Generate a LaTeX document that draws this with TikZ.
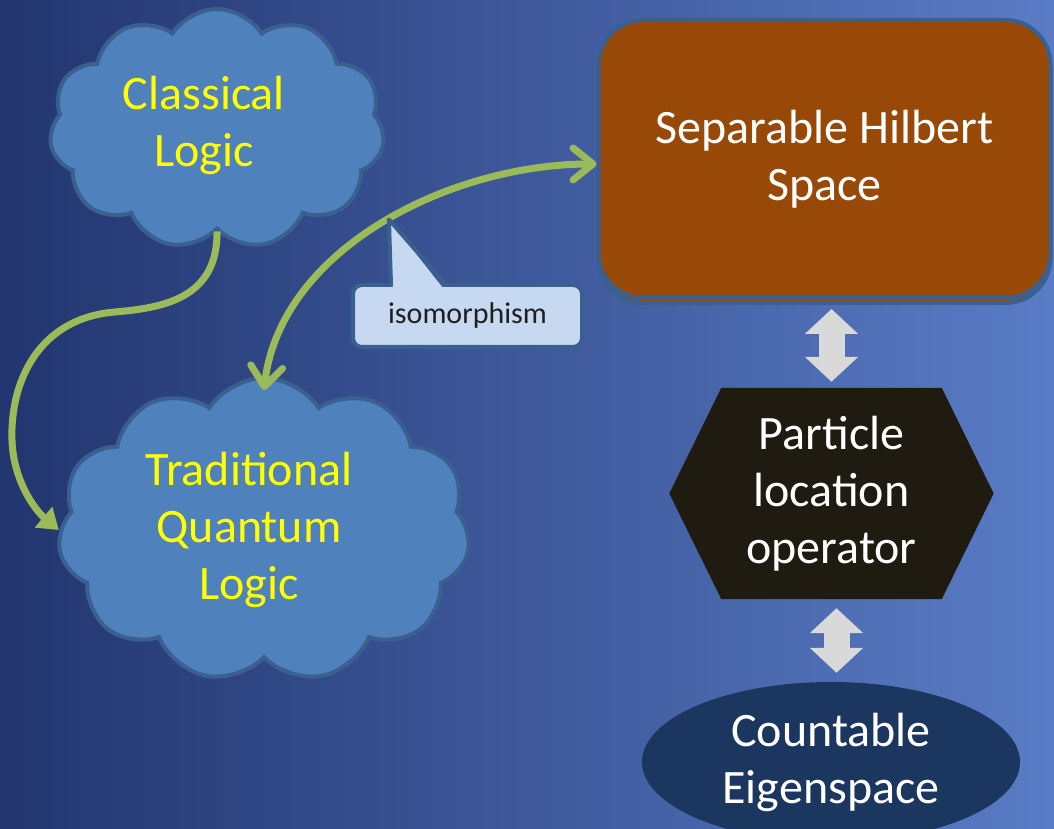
\documentclass[tikz,border=0pt]{standalone}
\usepackage{fontspec}
\setmainfont{Carlito}
\usepackage{tikz}
\usetikzlibrary{arrows.meta,positioning,calc,backgrounds,shadows,shapes.geometric,shapes.symbols}
\definecolor{BgDark}{HTML}{22356F}
\definecolor{BgLight}{HTML}{5A7CC6}
\definecolor{CloudFill}{HTML}{4F81BD}
\definecolor{CloudEdge}{HTML}{3A6090}
\definecolor{Leaf}{HTML}{9BBB59}
\definecolor{Rust}{HTML}{984807}
\definecolor{Tar}{HTML}{1F1B10}
\definecolor{Navy}{HTML}{1B375F}
\definecolor{Mist}{HTML}{D9D9D9}
\definecolor{NoteFill}{HTML}{C6D9F1}
\definecolor{NoteInk}{HTML}{1F1F1F}
\definecolor{Yel}{HTML}{FFFF00}
\tikzset{
  big/.style={font=\fontsize{48}{57}\selectfont,align=center},
  puff/.style={cloud,cloud puffs=11,cloud puff arc=115,draw=CloudEdge,fill=CloudFill,line width=4pt,inner sep=0pt},
  pufftext/.style={big,text=Yel},
  hilbox/.style={rectangle,rounded corners=45pt,draw=CloudEdge,fill=Rust,line width=4pt,minimum width=452pt,minimum height=278pt,big,text=white,
    copy shadow={shadow xshift=0pt,shadow yshift=-5pt}},
  hexbox/.style={rectangle,minimum width=220pt,minimum height=211pt,inner sep=0pt,big,text=white},
  eigbox/.style={ellipse,fill=Navy,minimum width=378pt,minimum height=160pt,inner sep=0pt,big,text=white},
  notebox/.style={rectangle,rounded corners=9pt,draw=CloudEdge,fill=NoteFill,line width=4pt,minimum width=229pt,minimum height=62pt,
    font=\fontsize{30}{36}\selectfont,text=NoteInk},
  link/.style={Leaf,line width=7pt,-{Triangle[length=20pt,width=26pt]}},
  iso/.style={Leaf,line width=7pt,{Straight Barb[round,length=20pt,width=32pt]}-{Straight Barb[round,length=20pt,width=32pt]}},
  bigarrow/.style={Mist,line width=26pt,{Triangle[length=25pt,width=52pt]}-{Triangle[length=25pt,width=52pt]}}
}
\begin{document}
\begin{tikzpicture}[x=1pt,y=1pt]
  \useasboundingbox (0,0) rectangle (1054,829);
  \clip (0,0) rectangle (1054,829);
  % clouds, box, operator, eigenspace
  \node[puff,minimum width=335pt,minimum height=240pt] (classical) at (217,700) {};
  \node[pufftext] (classical-txt) at (204,704) {Classical\\Logic};
  \node[puff,minimum width=412pt,minimum height=304pt] (trad) at (264,299) {};
  \node[pufftext] (trad-txt) at (249,299) {Traditional\\Quantum\\Logic};
  \node[hilbox] (hilbert) at (824.5,670) {Separable Hilbert\\Space};
  \node[hexbox] (hex) at (831.5,335.5) {Particle\\location\\operator};
  \node[eigbox] (eigen) at (831,67) {Countable\\Eigenspace};
  \begin{scope}[on background layer]
    \shade[left color=BgDark,right color=BgLight] (0,0) rectangle (1054,829);
    \fill[Tar] (hex.north west) -- (hex.north east) -- ($(hex.east)+(52,0)$) -- (hex.south east)
      -- (hex.south west) -- ($(hex.west)+(-52,0)$) -- cycle;
  \end{scope}
  % green connectors
  \draw[link] (classical.south) .. controls (218,529) and (160,521) .. (115,517)
    .. controls (40,511) and (10,449) .. (12,389) .. controls (13,349) and (35,319) .. (trad.west);
  \draw[iso] ([yshift=-14pt]trad.north) .. controls (280,580) and (450,665) .. ([yshift=-5pt]hilbert.west)
    coordinate[pos=0.52] (isotip);
  % callout
  \node[notebox] (note) at (467.5,513) {isomorphism};
  \fill[NoteFill] ($(note.north west)+(42,-5)$) -- (isotip) -- ($(note.north west)+(92,-5)$) -- cycle;
  \draw[CloudEdge,line width=4pt,line join=round] ($(note.north west)+(40,-2)$) -- (isotip) -- ($(note.north west)+(95,-2)$);
  % grey double arrows
  \draw[bigarrow,shorten <=9pt,shorten >=6pt] (hex.north |- hilbert.south) -- (hex.north);
  \draw[bigarrow,shorten <=9pt,shorten >=9pt] ([xshift=5pt]hex.south) -- ([xshift=5pt]hex.south |- eigen.north);
\end{tikzpicture}
\end{document}
